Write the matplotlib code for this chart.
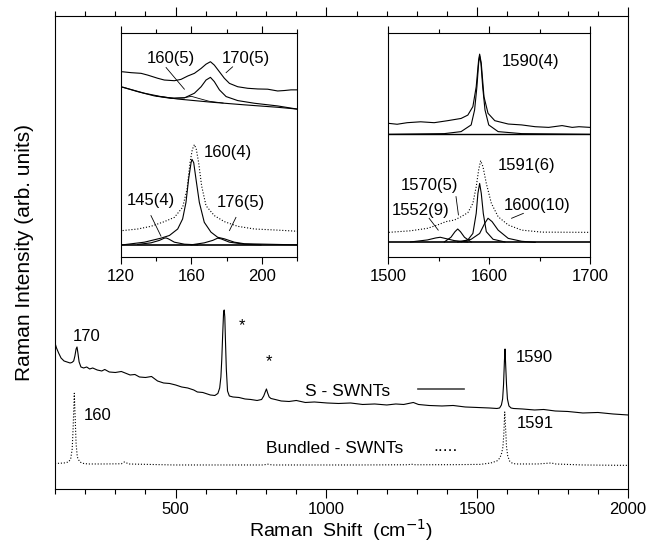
import matplotlib
matplotlib.use("Agg")
import matplotlib.pyplot as plt

plt.rcParams['font.family'] = ['Liberation Sans', 'DejaVu Sans']

# main spectra (Raman shift in cm-1, intensity in arb. units)
s_x = [100, 105, 112, 120, 130, 140, 150, 156, 162, 166, 170, 173, 176, 180, 186, 195, 205,
       215, 225, 240, 255, 265, 280, 300, 320, 349, 365, 380, 400, 420, 440, 460, 480, 500,
       520, 540, 560, 572, 590, 605, 615, 630, 640, 646, 650, 653, 656, 659, 661, 663, 665,
       668, 672, 678, 690, 710, 730, 749, 770, 785, 792, 797, 801, 805, 810, 816, 830, 850,
       876, 900, 930, 960, 1002, 1040, 1080, 1120, 1160, 1200, 1230, 1256, 1272, 1288, 1305,
       1340, 1383, 1420, 1460, 1500, 1540, 1565, 1574, 1580, 1584, 1587, 1590, 1592, 1594,
       1597, 1600, 1605, 1612, 1620, 1650, 1690, 1720, 1758, 1800, 1850, 1900, 1950, 2000]
s_y = [146, 141, 136, 131, 128, 127, 126, 126.5, 128, 133, 140, 142, 136, 127, 122, 121, 122,
       120, 121, 119, 118, 119.5, 117, 116.5, 117.5, 114, 114.5, 112, 111.5, 112.5, 108, 106,
       105.5, 104, 102, 101, 99, 97, 96.5, 95, 94, 93.5, 95.5, 101, 112, 130, 155, 177, 179,
       172, 150, 120, 98, 93, 92, 91.5, 90, 89.5, 88.5, 89.5, 93, 97, 100, 96, 92, 90.5,
       89.5, 88, 87.5, 88.5, 86.5, 87, 86, 85.5, 86, 84.5, 85, 84, 85, 84.5, 85.5, 86.5,
       84.5, 83.5, 83, 83.5, 82, 81.5, 81, 80.5, 81, 84, 90, 104, 128, 140, 125, 104, 90,
       83, 81, 80.5, 80, 79, 79.5, 78, 77.5, 76, 76.5, 75, 74]

b_x = [100, 114, 130, 145, 152, 157, 160, 164, 167, 170, 174, 182, 195, 210, 260, 320, 330,
       345, 420, 495, 600, 700, 790, 806, 820, 950, 1100, 1270, 1281, 1295, 1420, 1510, 1545,
       1565, 1575, 1581, 1585, 1588, 1591, 1594, 1597, 1601, 1607, 1617, 1630, 1700, 1745,
       1760, 1850, 2000]
b_y = [25.5, 25.7, 26, 27, 30, 40, 60, 95.7, 70, 45, 32, 27, 25.5, 25, 25, 25.2, 27,
       25, 24.5, 24, 24, 24, 24, 24.8, 24, 24, 24, 24.2, 24.8, 24.2, 24.3, 24.6, 26,
       28, 31, 36, 42, 55, 77, 60, 42, 33, 28, 25.5, 25, 25, 26,
       25, 24, 23.6]

# inset 1: RBM region
i1_s_x = [120.9, 125.7, 131.4, 135.2, 140.8, 144.6, 150.3, 154.1, 157.9, 161.7, 165.5, 168.3,
          170.8, 173, 175.9, 178.7, 181.6, 186.3, 192, 197.7, 203.3, 209, 212.8, 216.6, 220]
i1_s_y = [82.8, 82.4, 82.1, 81.3, 79.9, 79.1, 78.8, 79.4, 80.9, 82.1, 84.3, 86.2,
          87.3, 85.8, 82.8, 79.9, 77.6, 76.1, 75.4, 75.1, 75, 74.2, 74.4, 74.7, 74.7]
i1_fit_x = [120.9, 129.5, 138.9, 148.4, 156, 161.7, 165.5, 168.3, 170.8, 173, 175.9, 179.7,
            186.3, 195.8, 209, 220]
i1_fit_y = [75.9, 73.9, 72, 70.9, 71.1, 73.2, 76.1, 79.1, 80.3, 78.4, 74.7, 71.7,
            69.9, 68.7, 67.5, 66.1]
i1_base_x = [120.9, 133.2, 142.6, 152.1, 171, 190, 209, 220]
i1_base_y = [75.9, 73.2, 71.7, 70.6, 69.2, 68, 66.9, 66.1]
i1_c160_x = [140, 150, 156, 160, 164, 170, 178]
i1_c160_y = [71.9, 71.0, 71.2, 71.8, 70.9, 69.6, 68.8]

i1_b_x = [120.9, 129.5, 137, 144.6, 150.3, 155, 157.5, 159.2, 160.5, 161.7, 162.8, 164.1,
          165.8, 168.3, 173, 178.7, 186.3, 195.8, 209, 220]
i1_b_y = [11.7, 12.4, 13.6, 15.7, 17.6, 22.1, 30.2, 42.1, 48, 50.2, 48, 42.1,
          31.7, 22.8, 18.4, 15.7, 13.6, 12.4, 11.9, 11.4]
i1_sum_x = [120.9, 133.3, 142.7, 147.5, 152.2, 155, 156.9, 158.4, 159.8, 160.3, 161.3, 162.6,
            164.5, 167.3, 171.1, 174.9, 178.7, 184.4, 190.1, 220]
i1_sum_y = [5.3, 6.5, 8.3, 9.5, 12.4, 16.9, 24.3, 34.7, 42.1, 43.6, 42.1, 34.7,
            24.3, 15.4, 11, 8.7, 8, 6.5, 5.8, 5.3]
i1_c145_x = [129.5, 137, 141.8, 144.6, 145.6, 146.9, 150.3, 156, 163.6]
i1_c145_y = [5.5, 6.2, 7.3, 8.3, 8.4, 8, 6.5, 5.6, 5.3]
i1_c176_x = [159.8, 167.3, 172.1, 174.9, 176.8, 181.6, 190.1, 199.5]
i1_c176_y = [5.3, 6.2, 7.3, 8.3, 8, 6.5, 5.6, 5.3]

# inset 2: G band region
i2_s_x = [1500.7, 1509, 1519, 1532.3, 1545.7, 1559, 1572.3, 1579, 1584, 1587.3, 1589.7,
          1590.7, 1592.3, 1595, 1599, 1605.7, 1619, 1632.3, 1645.7, 1659, 1672.3, 1682.3,
          1689, 1700]
i2_s_y = [59.7, 59.3, 60, 60.4, 60, 60.9, 61.9, 63.4, 67.2, 76.1, 88.1,
          90.7, 86.6, 71.6, 64.2, 60.9, 59.4, 59, 58.2, 57.9, 58.7, 57.9,
          58.2, 57.9]
i2_fit_x = [1500.7, 1555.7, 1572.3, 1582.3, 1585.7, 1588, 1589.7, 1590.7, 1592, 1593.7,
            1596, 1599.7, 1609, 1632.3, 1700]
i2_fit_y = [54.8, 55.1, 56, 59, 65.7, 76.1, 86.6, 89.9, 86.6, 76.1,
            65.7, 59, 56, 55.1, 54.8]

i2_b_x = [1500.7, 1522.3, 1539, 1549, 1557.3, 1565.7, 1572.3, 1579, 1584, 1587.3, 1589.7,
          1591.7, 1594, 1597.3, 1602.3, 1609, 1619, 1632.3, 1652.3, 1700]
i2_b_y = [10.9, 11.6, 12.7, 14.2, 15.7, 16.4, 17.9, 19.7, 23.9, 31.3, 38.8,
          43, 40.3, 32.8, 23.9, 17.9, 14.2, 11.9, 11, 10.9]
i2_c1552_x = [1522.3, 1539, 1547.3, 1551.7, 1557.3, 1565.7, 1579]
i2_c1552_y = [6.6, 7.5, 8.4, 8.7, 8.1, 7.2, 6.6]
i2_c1570_x = [1555.7, 1562.3, 1566.3, 1569, 1571.7, 1575.7, 1582.3]
i2_c1570_y = [6.6, 8.7, 11.2, 12.4, 11.2, 8.7, 6.6]
i2_c1591_x = [1572.3, 1579, 1584, 1587.3, 1589, 1590.7, 1592.3, 1594.3, 1597.3, 1604, 1615.7]
i2_c1591_y = [6.6, 7.5, 10.4, 19.4, 28.4, 32.8, 28.4, 19.4, 11.2, 7.8, 6.6]
i2_c1600_x = [1569, 1582.3, 1590.7, 1595.7, 1599, 1603, 1609, 1619, 1632.3, 1645.7]
i2_c1600_y = [6.6, 7.8, 10.4, 14.9, 17.2, 15.7, 11.9, 8.2, 6.9, 6.4]

fig = plt.figure(figsize=(6.57, 5.45), dpi=100)
ax = fig.add_axes([0.0837, 0.1028, 0.8723, 0.8678])

lw = 0.8
ax.plot(s_x, s_y, color='black', lw=lw)
ax.plot(b_x, b_y, color='black', lw=lw, ls=':')
ax.set_xlim(100, 2000)
ax.set_ylim(0, 473)
ax.set_xticks([500, 1000, 1500, 2000])
ax.set_xticks(range(100, 2001, 100), minor=True)
ax.set_yticks([])
ax.tick_params(axis='x', which='both', direction='out', top=True, labelsize=12, pad=3)
ax.tick_params(axis='x', which='major', length=6.5, width=0.8)
ax.tick_params(axis='x', which='minor', length=3.5, width=0.8)
for sp in ax.spines.values():
    sp.set_linewidth(0.8)
ax.set_xlabel('Raman  Shift  (cm$^{-1}$)', fontsize=14, labelpad=0)
fig.text(0.038, 0.537, 'Raman Intensity (arb. units)', rotation=90, fontsize=15,
         ha='center', va='center')

fs = 12
ax.text(205, 152, '170', fontsize=fs, ha='center', va='center')
ax.text(721, 163, '*', fontsize=fs, ha='center', va='center')
ax.text(809, 127, '*', fontsize=fs, ha='center', va='center')
ax.text(1071, 97, 'S - SWNTs', fontsize=12.5, ha='center', va='center')
ax.plot([1302, 1455], [100, 100], color='#444444', lw=1.2)
ax.text(1629, 131, '1590', fontsize=fs, ha='left', va='center')
ax.text(194, 73, '160', fontsize=fs, ha='left', va='center')
ax.text(1630, 65, '1591', fontsize=fs, ha='left', va='center')
ax.text(1028, 40, 'Bundled - SWNTs', fontsize=12.5, ha='center', va='center')
ax.text(1396, 42, '.....', fontsize=12.5, ha='center', va='center')


def setup_inset(a):
    a.set_ylim(0, 100)
    a.set_yticks([])
    a.tick_params(axis='x', which='both', direction='out', top=True, labelsize=12, pad=4)
    a.tick_params(axis='x', which='major', length=5, width=0.8)
    a.tick_params(axis='x', which='minor', length=3, width=0.8)
    for sp in a.spines.values():
        sp.set_linewidth(0.8)


# inset 1
a1 = fig.add_axes([0.1842, 0.5290, 0.2679, 0.4098])
a1.plot(i1_s_x, i1_s_y, color='black', lw=lw)
a1.plot(i1_fit_x, i1_fit_y, color='black', lw=lw)
a1.plot(i1_base_x, i1_base_y, color='black', lw=lw)
a1.plot(i1_c160_x, i1_c160_y, color='black', lw=0.6)
a1.plot(i1_b_x, i1_b_y, color='black', lw=lw, ls=':')
a1.plot(i1_sum_x, i1_sum_y, color='black', lw=lw)
a1.plot(i1_c145_x, i1_c145_y, color='black', lw=lw)
a1.plot(i1_c176_x, i1_c176_y, color='black', lw=lw)
a1.axhline(5.3, color='black', lw=1.2)
a1.set_xlim(120, 220)
a1.set_xticks([120, 160, 200])
a1.set_xticks([140, 180, 220], minor=True)
setup_inset(a1)
a1.text(148.4, 88.7, '160(5)', fontsize=fs, ha='center', va='center')
a1.text(191, 88.7, '170(5)', fontsize=fs, ha='center', va='center')
a1.plot([145.6, 156], [84.7, 75], color='black', lw=0.6)
a1.plot([183.4, 179.7], [85, 82.4], color='black', lw=0.6)
a1.text(180.6, 46.5, '160(4)', fontsize=fs, ha='center', va='center')
a1.text(137, 25, '145(4)', fontsize=fs, ha='center', va='center')
a1.plot([137, 142.7], [18.4, 9.2], color='black', lw=0.6)
a1.text(188.2, 24.3, '176(5)', fontsize=fs, ha='center', va='center')
a1.plot([185.3, 181.6], [17.6, 11.7], color='black', lw=0.6)

# inset 2
a2 = fig.add_axes([0.5906, 0.5290, 0.3075, 0.4098])
a2.plot(i2_s_x, i2_s_y, color='black', lw=lw)
a2.plot(i2_fit_x, i2_fit_y, color='black', lw=lw)
a2.axhline(54.8, color='black', lw=1.0)
a2.plot(i2_b_x, i2_b_y, color='black', lw=lw, ls=':')
a2.plot(i2_c1552_x, i2_c1552_y, color='black', lw=lw)
a2.plot(i2_c1570_x, i2_c1570_y, color='black', lw=lw)
a2.plot(i2_c1591_x, i2_c1591_y, color='black', lw=lw)
a2.plot(i2_c1600_x, i2_c1600_y, color='black', lw=lw)
a2.axhline(6.4, color='black', lw=1.2)
a2.set_xlim(1500, 1700)
a2.set_xticks([1500, 1600, 1700])
a2.set_xticks([1550, 1650], minor=True)
setup_inset(a2)
a2.text(1640.7, 87.3, '1590(4)', fontsize=fs, ha='center', va='center')
a2.text(1637.3, 41, '1591(6)', fontsize=fs, ha='center', va='center')
a2.text(1540.7, 32.1, '1570(5)', fontsize=fs, ha='center', va='center')
a2.plot([1567.3, 1569.7], [26.9, 18.7], color='black', lw=0.6)
a2.text(1532.3, 20.9, '1552(9)', fontsize=fs, ha='center', va='center')
a2.plot([1540.7, 1549.7], [17.2, 11.9], color='black', lw=0.6)
a2.text(1647.3, 22.7, '1600(10)', fontsize=fs, ha='center', va='center')
a2.plot([1634, 1622.3], [19.4, 17.2], color='black', lw=0.6)

fig.savefig('out.png', dpi=100)
